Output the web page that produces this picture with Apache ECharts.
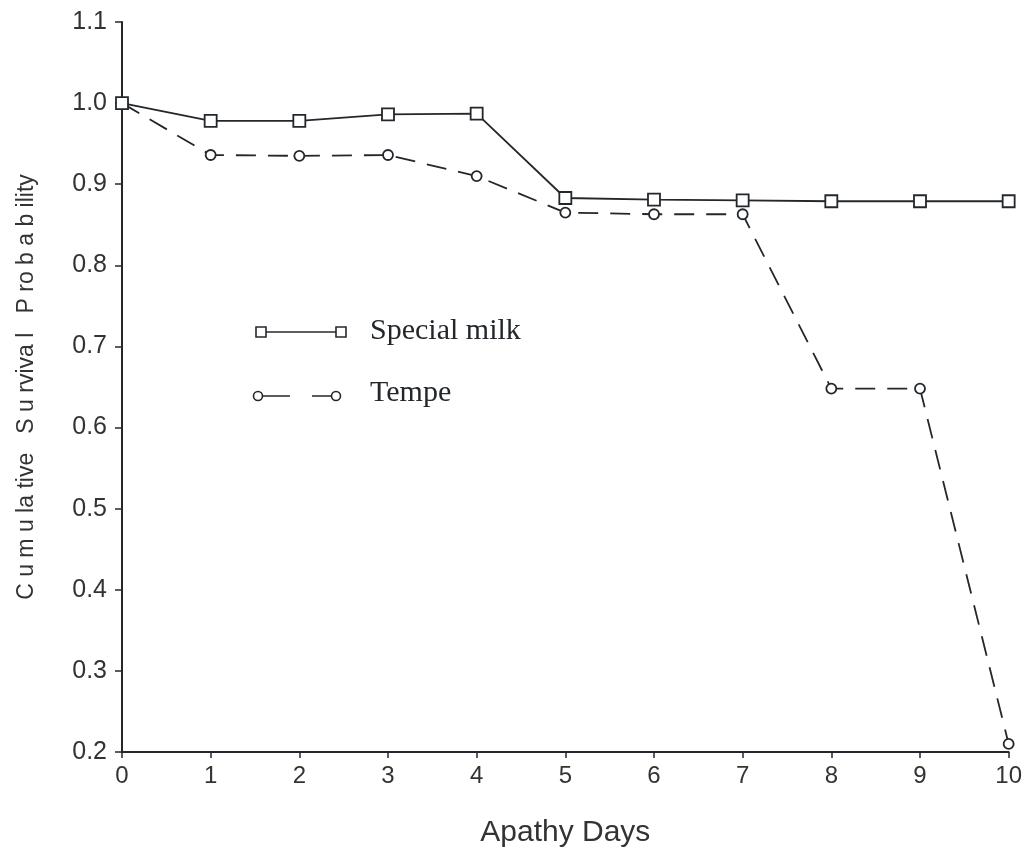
<html><head>
<meta charset="UTF-8">
<title>Cumulative Survival Probability</title>
<script src="https://cdn.jsdelivr.net/npm/echarts@6/dist/echarts.min.js"></script>
<style>
  body { margin: 0; background: #fff; }
  #chart { width: 1025px; height: 853px; }
</style>
</head>
<body>
<div id="chart"></div>
<script>
// data
const days = [0, 1, 2, 3, 4, 5, 6, 7, 8, 9, 10];
const specialMilk = [1.0, 0.978, 0.978, 0.986, 0.987, 0.883, 0.881, 0.880, 0.879, 0.879, 0.879];
const tempe = [1.0, 0.936, 0.935, 0.936, 0.910, 0.865, 0.863, 0.863, 0.648, 0.648, 0.21];
const legendNames = ['Special milk', 'Tempe'];

const ink = '#23272c';
const chart = echarts.init(document.getElementById('chart'));

function pairs(ys) {
  return days.map((d, i) => [d, ys[i]]);
}

// hand drawn legend like in the scan: marker - line - marker, then label
const legendGraphic = [
  { type: 'line', shape: { x1: 261, y1: 332, x2: 341, y2: 332 }, style: { stroke: ink, lineWidth: 1.6 } },
  { type: 'rect', shape: { x: 256, y: 327, width: 10, height: 10 }, style: { fill: '#fff', stroke: ink, lineWidth: 1.6 } },
  { type: 'rect', shape: { x: 336, y: 327, width: 10, height: 10 }, style: { fill: '#fff', stroke: ink, lineWidth: 1.6 } },
  { type: 'text', left: 370, top: 316, style: { text: legendNames[0], font: '30px "Liberation Serif", serif', fill: ink } },
  { type: 'line', shape: { x1: 258, y1: 396, x2: 336, y2: 396 }, style: { stroke: ink, lineWidth: 1.6, lineDash: [32, 22] } },
  { type: 'circle', shape: { cx: 258, cy: 396, r: 4.5 }, style: { fill: '#fff', stroke: ink, lineWidth: 1.6 } },
  { type: 'circle', shape: { cx: 336, cy: 396, r: 4.5 }, style: { fill: '#fff', stroke: ink, lineWidth: 1.6 } },
  { type: 'text', left: 370, top: 378, style: { text: legendNames[1], font: '30px "Liberation Serif", serif', fill: ink } }
];

const option = {
  backgroundColor: '#fff',
  animation: false,
  grid: { left: 122, right: 11, top: 22, bottom: 96 },
  xAxis: {
    type: 'value',
    min: 0,
    max: 10,
    interval: 1,
    name: 'Apathy Days',
    nameLocation: 'middle',
    nameGap: 66,
    nameTextStyle: { fontSize: 30, color: '#333', fontFamily: '"Liberation Sans", Arial, sans-serif' },
    axisLine: { lineStyle: { color: ink, width: 2 } },
    axisTick: { length: 6, lineStyle: { color: ink, width: 1.5 } },
    axisLabel: { fontSize: 24, color: '#333', margin: 12, fontFamily: '"Liberation Sans", Arial, sans-serif' },
    splitLine: { show: false }
  },
  yAxis: {
    type: 'value',
    min: 0.2,
    max: 1.1,
    interval: 0.1,
    name: 'C u m u la tive   S u rviva l   P ro b a b ility',
    nameLocation: 'middle',
    nameGap: 84,
    nameTextStyle: { fontSize: 23, color: '#333', fontFamily: '"Liberation Sans", Arial, sans-serif' },
    axisLine: { show: true, lineStyle: { color: ink, width: 2 } },
    axisTick: { show: true, length: 7, lineStyle: { color: ink, width: 1.5 } },
    axisLabel: {
      fontSize: 25, color: '#333', margin: 15,
      fontFamily: '"Liberation Sans", Arial, sans-serif',
      formatter: v => v.toFixed(1)
    },
    splitLine: { show: false }
  },
  series: [
    {
      name: legendNames[0],
      type: 'line',
      data: pairs(specialMilk),
      symbol: 'rect',
      symbolSize: 12,
      showAllSymbol: true,
      lineStyle: { color: ink, width: 1.8 },
      itemStyle: { color: '#fff', borderColor: ink, borderWidth: 1.8 },
      z: 3
    },
    {
      name: legendNames[1],
      type: 'line',
      data: pairs(tempe),
      symbol: 'circle',
      symbolSize: 10,
      showAllSymbol: true,
      lineStyle: { color: ink, width: 1.8, type: [20, 12] },
      itemStyle: { color: '#fff', borderColor: ink, borderWidth: 1.8 },
      z: 2
    }
  ],
  graphic: legendGraphic
};

chart.setOption(option);
</script>
</body></html>
